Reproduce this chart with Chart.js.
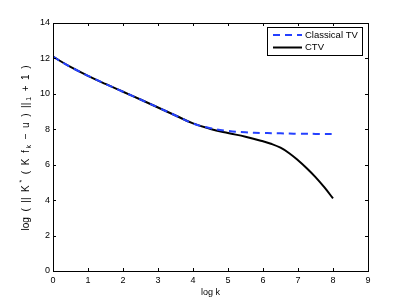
<!DOCTYPE html>
<html>
<head>
<meta charset="utf-8">
<script src="https://cdn.jsdelivr.net/npm/chart.js@4"></script>
<style>
  html, body { margin: 0; padding: 0; background: #fff; }
  #wrap { width: 407px; height: 306px; }
</style>
</head>
<body>
<div id="wrap"><canvas id="grafico" width="407" height="306"></canvas></div>
<script>
// datos
const logK = [0, 0.5, 1, 1.5, 2, 2.5, 3, 3.5, 4, 4.5, 5, 5.5, 6, 6.25, 6.5, 6.75, 7, 7.25, 7.5, 7.75, 8];
const classicalTV = [12.1, 11.52, 11.02, 10.56, 10.12, 9.68, 9.23, 8.78, 8.33, 8.06, 7.91, 7.83, 7.79, 7.78, 7.77, 7.76, 7.75, 7.75, 7.74, 7.74, 7.74];
const ctv = [12.1, 11.52, 11.02, 10.56, 10.12, 9.68, 9.23, 8.78, 8.33, 8.02, 7.79, 7.58, 7.32, 7.17, 6.96, 6.65, 6.25, 5.8, 5.3, 4.73, 4.1];
const xTicks = [0, 1, 2, 3, 4, 5, 6, 7, 8, 9];
const yTicks = [0, 2, 4, 6, 8, 10, 12, 14];
const seriesNames = ['Classical TV', 'CTV'];
// etiqueta del eje y: [texto, desplazamiento vertical, tamaño]
const yLabelParts = [
    ['log  (  ||  K ', 0, 10], ['*', -4, 7], ['  (  K  f', 0, 10], [' k', 3, 7],
    ['  \u2212  u  )  ||', 0, 10], [' 1', 3, 7], ['  +  1  )', 0, 10]
];

const fuente = "'Liberation Sans', Arial, sans-serif";

// marco tipo matlab con ticks hacia adentro + leyenda + titulo y
const marcoPlugin = {
    id: 'marco',
    afterDatasetsDraw(chart) {
        const { ctx, chartArea: a, scales } = chart;
        ctx.save();
        ctx.strokeStyle = '#000';
        ctx.lineWidth = 1;
        ctx.beginPath();
        xTicks.forEach(v => {
            const px = Math.round(scales.x.getPixelForValue(v)) + 0.5;
            ctx.moveTo(px, a.bottom); ctx.lineTo(px, a.bottom - 3);
            ctx.moveTo(px, a.top); ctx.lineTo(px, a.top + 3);
        });
        yTicks.forEach(v => {
            const py = Math.round(scales.y.getPixelForValue(v)) + 0.5;
            ctx.moveTo(a.left, py); ctx.lineTo(a.left + 3, py);
            ctx.moveTo(a.right, py); ctx.lineTo(a.right - 3, py);
        });
        ctx.stroke();
        ctx.strokeRect(Math.round(a.left) + 0.5, Math.round(a.top) + 0.5,
            Math.round(a.right - a.left), Math.round(a.bottom - a.top));

        // leyenda
        const lx = 267, ly = 27, lw = 95, lh = 28;
        ctx.fillStyle = '#fff';
        ctx.fillRect(lx, ly, lw, lh);
        ctx.strokeStyle = '#000';
        ctx.strokeRect(lx + 0.5, ly + 0.5, lw, lh);
        ctx.font = '9.5px ' + fuente;
        ctx.textBaseline = 'middle';
        chart.data.datasets.forEach((ds, i) => {
            const yy = ly + 8 + i * 12.5;
            ctx.strokeStyle = ds.borderColor;
            ctx.lineWidth = ds.borderWidth;
            ctx.setLineDash(ds.borderDash || []);
            ctx.beginPath();
            ctx.moveTo(lx + 6, yy); ctx.lineTo(lx + 35, yy);
            ctx.stroke();
            ctx.setLineDash([]);
            ctx.fillStyle = '#000';
            ctx.fillText(ds.label, lx + 38, yy);
        });

        // titulo eje y con sub/superindices
        let total = 0;
        yLabelParts.forEach(p => { ctx.font = p[2] + 'px ' + fuente; total += ctx.measureText(p[0]).width; });
        ctx.translate(26, 148);
        ctx.rotate(-Math.PI / 2);
        ctx.fillStyle = '#000';
        ctx.textBaseline = 'middle';
        ctx.textAlign = 'left';
        let cx = -total / 2;
        yLabelParts.forEach(p => {
            ctx.font = p[2] + 'px ' + fuente;
            ctx.fillText(p[0], cx, p[1]);
            cx += ctx.measureText(p[0]).width;
        });
        ctx.restore();
    }
};

const ctx = document.getElementById('grafico').getContext('2d');
const miGrafico = new Chart(ctx, {
    type: 'line',
    data: {
        datasets: [
            {
                label: seriesNames[0],
                data: logK.map((x, i) => ({ x: x, y: classicalTV[i] })),
                borderColor: '#2440ff',
                borderWidth: 2,
                borderDash: [7, 5],
                pointRadius: 0,
                tension: 0.4,
                fill: false
            },
            {
                label: seriesNames[1],
                data: logK.map((x, i) => ({ x: x, y: ctv[i] })),
                borderColor: '#000',
                borderWidth: 2,
                pointRadius: 0,
                tension: 0.4,
                fill: false
            }
        ]
    },
    options: {
        responsive: false,
        animation: false,
        layout: { padding: { left: 0, right: 39, top: 23, bottom: 0 } },
        plugins: { legend: { display: false }, tooltip: { enabled: false } },
        scales: {
            x: {
                type: 'linear',
                min: 0, max: 9,
                grid: { display: false, drawTicks: false },
                border: { display: false },
                afterBuildTicks: s => { s.ticks = xTicks.map(v => ({ value: v })); },
                afterFit: s => { s.height = 35; },
                ticks: { color: '#000', font: { size: 9, family: fuente }, padding: 4, maxRotation: 0 },
                title: { display: true, text: 'log k', color: '#000', font: { size: 9, family: fuente }, padding: { top: 0, bottom: 8 } }
            },
            y: {
                type: 'linear',
                min: 0, max: 14,
                grid: { display: false, drawTicks: false },
                border: { display: false },
                afterBuildTicks: s => { s.ticks = yTicks.map(v => ({ value: v })); },
                afterFit: s => { s.width = 53; },
                ticks: { color: '#000', font: { size: 9, family: fuente }, padding: 3 }
            }
        }
    },
    plugins: [marcoPlugin]
});
</script>
</body>
</html>
